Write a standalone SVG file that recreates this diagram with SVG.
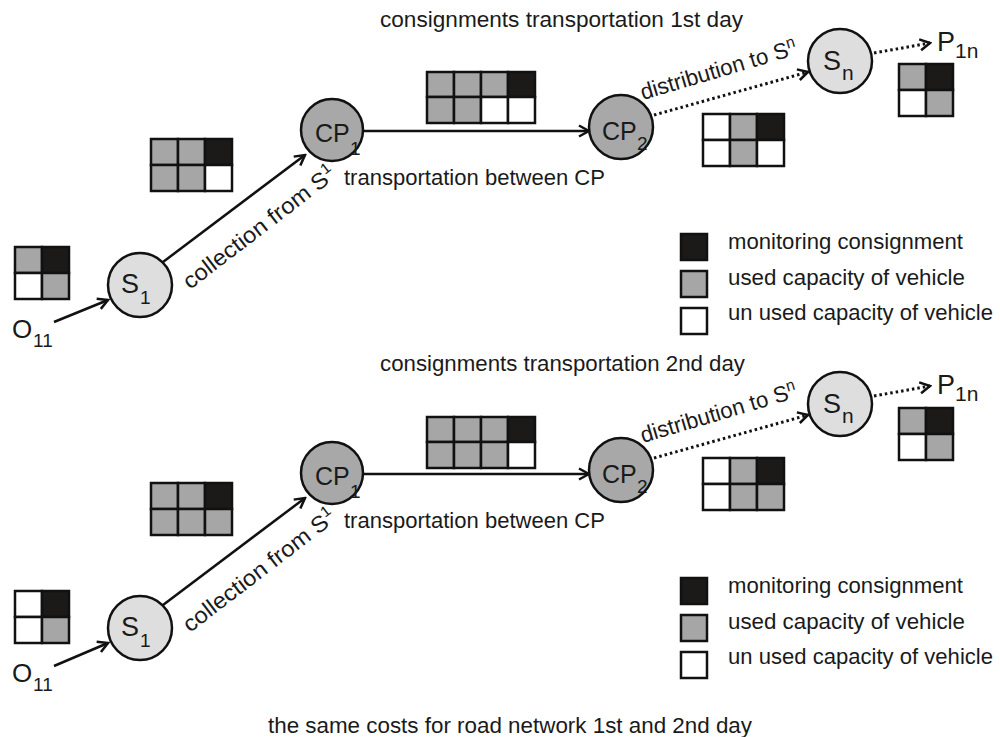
<svg xmlns="http://www.w3.org/2000/svg" width="1000" height="737" viewBox="0 0 1000 737">
<defs>
<style>
.t{font-family:"Liberation Sans",Arial,sans-serif;fill:#1a1a1a}
.lbl{font-size:22.5px}
.nl{font-size:27px}
.sub{font-size:19px}
.light{fill:#dedede;stroke:#111;stroke-width:2.5}
.dark{fill:#a8a8a8;stroke:#111;stroke-width:2.5}
.grid rect{stroke:#111;stroke-width:2.5}
.k{fill:#1c1a19}.g{fill:#a6a6a6}.w{fill:#fff}
.ln{fill:none;stroke:#111;stroke-width:2.5;marker-end:url(#chev)}
.dot{stroke-dasharray:2.5 3;stroke-width:3}
</style>
<marker id="chev" viewBox="0 0 14 14" refX="12" refY="7" markerWidth="14" markerHeight="14" markerUnits="userSpaceOnUse" orient="auto">
<path d="M2,1.5 L12,7 L2,12.5" fill="none" stroke="#111" stroke-width="2.5" stroke-dasharray="none"/>
</marker>
</defs>
<rect width="1000" height="737" fill="#fff"/>

<!-- titles -->
<text id="title1" class="t lbl" x="380" y="27" textLength="363" lengthAdjust="spacingAndGlyphs">consignments transportation 1st day</text>
<text id="title2" class="t lbl" x="380" y="371" textLength="365" lengthAdjust="spacingAndGlyphs">consignments transportation 2nd day</text>
<text id="caption" class="t lbl" x="268" y="733" textLength="484" lengthAdjust="spacingAndGlyphs">the same costs for road network 1st and 2nd day</text>

<!-- connectors -->
<g id="connectors">
<line class="ln" x1="54" y1="322" x2="108" y2="300"/>
<line class="ln" x1="163" y1="262" x2="305" y2="155"/>
<line class="ln" x1="363" y1="131" x2="589" y2="131"/>
<line class="ln dot" x1="654" y1="115" x2="808" y2="72"/>
<line class="ln dot" x1="874" y1="53" x2="930" y2="43"/>

<line class="ln" x1="54" y1="666" x2="108" y2="643"/>
<line class="ln" x1="163" y1="605" x2="305" y2="498"/>
<line class="ln" x1="363" y1="474" x2="589" y2="474"/>
<line class="ln dot" x1="654" y1="458" x2="808" y2="415"/>
<line class="ln dot" x1="874" y1="396" x2="930" y2="386"/>
</g>

<!-- connector labels -->
<g id="connector-labels">
<text class="t lbl" transform="translate(190,290) rotate(-37.5)" textLength="186" lengthAdjust="spacingAndGlyphs">collection from  S<tspan font-size="15" dy="-9">1</tspan></text>
<text class="t lbl" x="344" y="185" textLength="261" lengthAdjust="spacingAndGlyphs">transportation between CP</text>
<text class="t lbl" transform="translate(643,100) rotate(-16.5)" textLength="162" lengthAdjust="spacingAndGlyphs">distribution to S<tspan font-size="16" dy="-8">n</tspan></text>

<text class="t lbl" transform="translate(190,633) rotate(-37.5)" textLength="186" lengthAdjust="spacingAndGlyphs">collection from  S<tspan font-size="15" dy="-9">1</tspan></text>
<text class="t lbl" x="344" y="528" textLength="261" lengthAdjust="spacingAndGlyphs">transportation between CP</text>
<text class="t lbl" transform="translate(643,443) rotate(-16.5)" textLength="162" lengthAdjust="spacingAndGlyphs">distribution to S<tspan font-size="16" dy="-8">n</tspan></text>
</g>

<!-- day 1 nodes -->
<g id="O11-1"><text class="t" x="12" y="338" font-size="26">O</text><text class="t sub" x="33" y="347">11</text></g>
<g id="S1-1"><circle class="light" cx="140" cy="285" r="32"/><text class="t nl" x="121" y="293">S</text><text class="t sub" x="140" y="304">1</text></g>
<g id="CP1-1"><circle class="dark" cx="332" cy="130" r="31"/><text class="t" font-size="25" x="315" y="142">CP</text><text class="t sub" x="350" y="155">1</text></g>
<g id="CP2-1"><circle class="dark" cx="621" cy="127" r="32"/><text class="t" font-size="25" x="602" y="140">CP</text><text class="t sub" x="637" y="150">2</text></g>
<g id="Sn-1"><circle class="light" cx="840" cy="61" r="32"/><text class="t nl" x="823" y="70">S</text><text class="t" font-size="21" x="842" y="80">n</text></g>
<g id="P1n-1"><text class="t" x="937" y="51" font-size="27">P</text><text class="t" font-size="21" x="955" y="58">1n</text></g>

<!-- day 2 nodes -->
<g id="O11-2"><text class="t" x="12" y="682" font-size="26">O</text><text class="t sub" x="33" y="691">11</text></g>
<g id="S1-2"><circle class="light" cx="140" cy="628" r="32"/><text class="t nl" x="121" y="636">S</text><text class="t sub" x="140" y="647">1</text></g>
<g id="CP1-2"><circle class="dark" cx="332" cy="473" r="31"/><text class="t" font-size="25" x="315" y="485">CP</text><text class="t sub" x="350" y="498">1</text></g>
<g id="CP2-2"><circle class="dark" cx="621" cy="470" r="32"/><text class="t" font-size="25" x="602" y="483">CP</text><text class="t sub" x="637" y="493">2</text></g>
<g id="Sn-2"><circle class="light" cx="840" cy="404" r="32"/><text class="t nl" x="823" y="413">S</text><text class="t" font-size="21" x="842" y="423">n</text></g>
<g id="P1n-2"><text class="t" x="937" y="394" font-size="27">P</text><text class="t" font-size="21" x="955" y="401">1n</text></g>

<!-- capacity grids day 1 -->
<g id="grid-s1-1" class="grid" transform="translate(15,247)">
<rect class="g" x="0" y="0" width="27" height="26"/><rect class="k" x="27" y="0" width="27" height="26"/>
<rect class="w" x="0" y="26" width="27" height="26"/><rect class="g" x="27" y="26" width="27" height="26"/>
</g>
<g id="grid-cp1-1" class="grid" transform="translate(151,139)">
<rect class="g" x="0" y="0" width="27" height="26"/><rect class="g" x="27" y="0" width="27" height="26"/><rect class="k" x="54" y="0" width="27" height="26"/>
<rect class="g" x="0" y="26" width="27" height="26"/><rect class="g" x="27" y="26" width="27" height="26"/><rect class="w" x="54" y="26" width="27" height="26"/>
</g>
<g id="grid-cp-1" class="grid" transform="translate(427,72)">
<rect class="g" x="0" y="0" width="27" height="25"/><rect class="g" x="27" y="0" width="27" height="25"/><rect class="g" x="54" y="0" width="27" height="25"/><rect class="k" x="81" y="0" width="27" height="25"/>
<rect class="g" x="0" y="25" width="27" height="26"/><rect class="g" x="27" y="25" width="27" height="26"/><rect class="w" x="54" y="25" width="27" height="26"/><rect class="w" x="81" y="25" width="27" height="26"/>
</g>
<g id="grid-cp2-1" class="grid" transform="translate(703,114)">
<rect class="w" x="0" y="0" width="27" height="26"/><rect class="g" x="27" y="0" width="27" height="26"/><rect class="k" x="54" y="0" width="27" height="26"/>
<rect class="w" x="0" y="26" width="27" height="26"/><rect class="g" x="27" y="26" width="27" height="26"/><rect class="w" x="54" y="26" width="27" height="26"/>
</g>
<g id="grid-sn-1" class="grid" transform="translate(899,64)">
<rect class="g" x="0" y="0" width="27" height="26"/><rect class="k" x="27" y="0" width="27" height="26"/>
<rect class="w" x="0" y="26" width="27" height="26"/><rect class="g" x="27" y="26" width="27" height="26"/>
</g>

<!-- capacity grids day 2 -->
<g id="grid-s1-2" class="grid" transform="translate(15,591)">
<rect class="w" x="0" y="0" width="27" height="26"/><rect class="k" x="27" y="0" width="27" height="26"/>
<rect class="w" x="0" y="26" width="27" height="26"/><rect class="g" x="27" y="26" width="27" height="26"/>
</g>
<g id="grid-cp1-2" class="grid" transform="translate(151,483)">
<rect class="g" x="0" y="0" width="27" height="26"/><rect class="g" x="27" y="0" width="27" height="26"/><rect class="k" x="54" y="0" width="27" height="26"/>
<rect class="g" x="0" y="26" width="27" height="26"/><rect class="g" x="27" y="26" width="27" height="26"/><rect class="g" x="54" y="26" width="27" height="26"/>
</g>
<g id="grid-cp-2" class="grid" transform="translate(427,417)">
<rect class="g" x="0" y="0" width="27" height="25"/><rect class="g" x="27" y="0" width="27" height="25"/><rect class="g" x="54" y="0" width="27" height="25"/><rect class="k" x="81" y="0" width="27" height="25"/>
<rect class="g" x="0" y="25" width="27" height="26"/><rect class="g" x="27" y="25" width="27" height="26"/><rect class="g" x="54" y="25" width="27" height="26"/><rect class="w" x="81" y="25" width="27" height="26"/>
</g>
<g id="grid-cp2-2" class="grid" transform="translate(703,458)">
<rect class="w" x="0" y="0" width="27" height="26"/><rect class="g" x="27" y="0" width="27" height="26"/><rect class="k" x="54" y="0" width="27" height="26"/>
<rect class="w" x="0" y="26" width="27" height="26"/><rect class="g" x="27" y="26" width="27" height="26"/><rect class="g" x="54" y="26" width="27" height="26"/>
</g>
<g id="grid-sn-2" class="grid" transform="translate(899,408)">
<rect class="g" x="0" y="0" width="27" height="26"/><rect class="k" x="27" y="0" width="27" height="26"/>
<rect class="w" x="0" y="26" width="27" height="26"/><rect class="g" x="27" y="26" width="27" height="26"/>
</g>

<!-- legends -->
<g id="legend-1" class="grid">
<rect class="k" x="681" y="234" width="26" height="26"/><text class="t lbl" x="728" y="249" textLength="235" lengthAdjust="spacingAndGlyphs">monitoring consignment</text>
<rect class="g" x="681" y="271" width="26" height="26"/><text class="t lbl" x="728" y="285" textLength="237" lengthAdjust="spacingAndGlyphs">used capacity of vehicle</text>
<rect class="w" x="681" y="308" width="26" height="26"/><text class="t lbl" x="728" y="320" textLength="265" lengthAdjust="spacingAndGlyphs">un used capacity of vehicle</text>
</g>
<g id="legend-2" class="grid">
<rect class="k" x="681" y="578" width="26" height="26"/><text class="t lbl" x="728" y="593" textLength="235" lengthAdjust="spacingAndGlyphs">monitoring consignment</text>
<rect class="g" x="681" y="615" width="26" height="26"/><text class="t lbl" x="728" y="629" textLength="237" lengthAdjust="spacingAndGlyphs">used capacity of vehicle</text>
<rect class="w" x="681" y="652" width="26" height="26"/><text class="t lbl" x="728" y="664" textLength="265" lengthAdjust="spacingAndGlyphs">un used capacity of vehicle</text>
</g>
</svg>
